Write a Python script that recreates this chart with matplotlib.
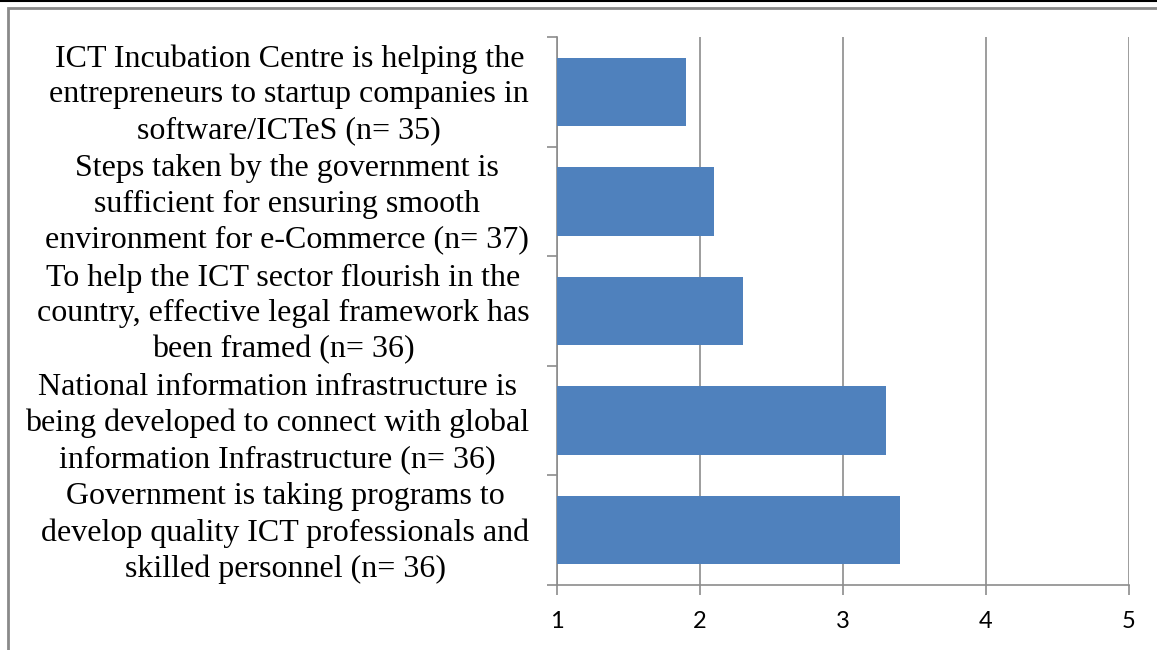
import numpy as np
import matplotlib
matplotlib.use("Agg")
import matplotlib.pyplot as plt
import matplotlib.transforms as mtransforms
from matplotlib.lines import Line2D
from matplotlib.patches import Rectangle

# statements, top to bottom
statements = [
    "ICT Incubation Centre is helping the\nentrepreneurs to startup companies in\nsoftware/ICTeS (n= 35)",
    "Steps taken by the government is\nsufficient for ensuring smooth\nenvironment for e-Commerce (n= 37)",
    "To help the ICT sector flourish in the\ncountry, effective legal framework has\nbeen framed (n= 36)",
    "National information infrastructure is\nbeing developed to connect with global\ninformation Infrastructure (n= 36)",
    "Government is taking programs to\ndevelop quality ICT professionals and\nskilled personnel (n= 36)",
]
mean_scores = [1.9, 2.1, 2.3, 3.3, 3.4]
x_ticks = [1, 2, 3, 4, 5]

bar_color = "#4F81BD"
grey = "#8C8C8C"

fig = plt.figure(figsize=(11.57, 6.5), dpi=100)
ax = fig.add_axes([557 / 1157, 65 / 650, (1129 - 557) / 1157, (585 - 37) / 650])

pos = np.arange(len(statements))
ax.barh(pos, np.array(mean_scores) - 1, left=1, height=0.625, color=bar_color, zorder=3)

ax.set_xlim(1, 5)
ax.set_ylim(len(statements) - 0.5, -0.5)

# gridlines
ax.set_xticks(x_ticks)
ax.set_xticklabels([str(v) for v in x_ticks], fontsize=17, family="Lato")
ax.grid(axis="x", color=grey, linewidth=1.2, zorder=0)
ax.tick_params(axis="x", direction="out", length=7, width=1.2, color=grey, pad=12)

# category labels at centres, tick marks at boundaries
ax.set_yticks(pos)
ax.set_yticklabels(statements, fontsize=23, family="Liberation Serif",
                   multialignment="center", linespacing=1.3)
ax.tick_params(axis="y", which="major", length=0, pad=20)
ax.set_yticks(np.arange(len(statements) + 1) - 0.5, minor=True)
ax.tick_params(axis="y", which="minor", direction="out", length=7, width=1.2, color=grey)

# nudge the labels up a little so they sit centred on the bars
shift = mtransforms.ScaledTranslation(0, 4 / 100, fig.dpi_scale_trans)
for lbl in ax.get_yticklabels():
    lbl.set_transform(lbl.get_transform() + shift)

for s in ["top", "right"]:
    ax.spines[s].set_visible(False)
for s in ["left", "bottom"]:
    ax.spines[s].set_color(grey)
    ax.spines[s].set_linewidth(1.2)

# outer frame as in the source image
fig.patches.append(Rectangle((8 / 1157, -0.1), 1.2, 1.1 - 8.5 / 650, transform=fig.transFigure,
                             fill=False, edgecolor="#8A8A8A", linewidth=2))
fig.lines.append(Line2D([0, 1], [1 - 0.8 / 650, 1 - 0.8 / 650], transform=fig.transFigure,
                        color="black", linewidth=1.5))

fig.savefig("out.png", dpi=100)
